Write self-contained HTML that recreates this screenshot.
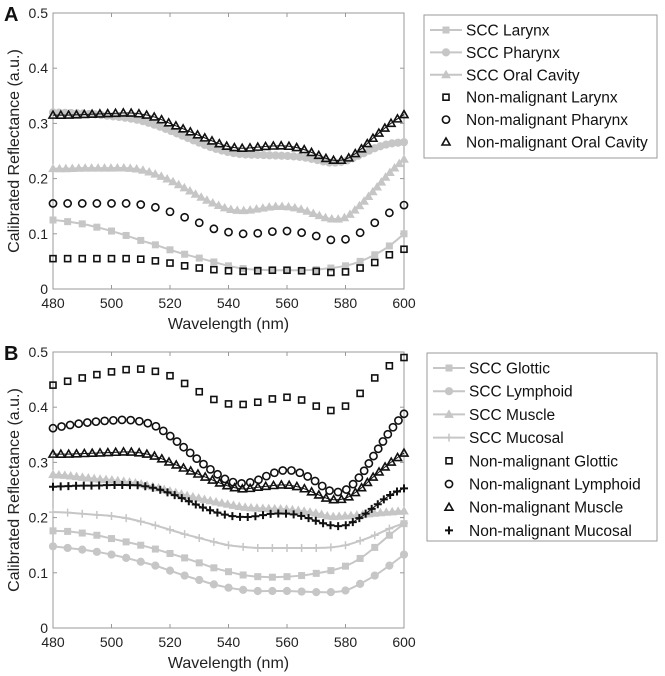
<!DOCTYPE html>
<html><head><meta charset="utf-8"><style>
body{margin:0;background:#fff;}
svg{display:block;font-family:"Liberation Sans",Arial,sans-serif;}
</style></head><body>
<svg id="fig" width="665" height="676" viewBox="0 0 665 676"></svg>
<script>
const wavelengths=[480,485,490,495,500,505,510,515,520,525,530,535,540,545,550,555,560,565,570,575,580,585,590,595,600];
const yTicks=[0,0.1,0.2,0.3,0.4,0.5];
const yTickLabels=["0","0.1","0.2","0.3","0.4","0.5"];
const xTicks=[480,500,520,540,560,580,600];
// Panel A
const aSccLarynx=[.125,.122,.118,.112,.105,.097,.088,.080,.071,.063,.056,.049,.042,.037,.035,.034,.034,.034,.035,.038,.042,.050,.062,.078,.100];
const aSccPharynx=[.320,.319,.318,.316,.313,.310,.305,.297,.287,.276,.265,.255,.248,.244,.243,.242,.241,.239,.234,.229,.232,.243,.255,.263,.266];
const aSccOral=[.218,.218,.219,.219,.219,.219,.216,.208,.197,.183,.168,.155,.145,.142,.145,.149,.149,.144,.135,.127,.130,.152,.180,.210,.235];
const aNmLarynx=[.055,.055,.055,.055,.055,.055,.054,.051,.047,.042,.038,.035,.033,.032,.033,.034,.034,.033,.032,.030,.031,.038,.048,.062,.072];
const aNmPharynx=[.155,.155,.155,.155,.155,.155,.153,.148,.140,.130,.120,.109,.103,.100,.101,.104,.105,.102,.096,.089,.090,.102,.120,.138,.152];
const aNmOral=[.315,.315,.316,.317,.318,.319,.317,.311,.300,.289,.278,.267,.258,.255,.257,.259,.259,.254,.244,.234,.235,.252,.276,.298,.316];
// Panel B
const bSccGlottic=[.176,.175,.172,.168,.162,.156,.150,.143,.135,.127,.118,.109,.102,.096,.093,.092,.093,.095,.099,.104,.112,.126,.146,.168,.189];
const bSccLymphoid=[.148,.145,.142,.138,.133,.127,.120,.113,.104,.095,.087,.079,.073,.069,.067,.067,.067,.066,.065,.065,.068,.080,.095,.113,.133];
const bSccMuscle=[.278,.276,.273,.270,.268,.265,.261,.255,.248,.241,.235,.229,.224,.219,.217,.216,.215,.212,.208,.202,.203,.205,.208,.210,.212];
const bSccMucosal=[.210,.209,.207,.205,.203,.199,.193,.186,.178,.170,.163,.156,.150,.147,.145,.145,.145,.145,.145,.146,.150,.158,.168,.180,.190];
const bNmGlottic=[.440,.447,.453,.459,.464,.468,.469,.465,.457,.443,.428,.414,.406,.405,.409,.415,.418,.413,.402,.394,.402,.425,.453,.475,.490];
const bNmLymphoid=[.362,.367,.371,.374,.376,.377,.374,.366,.348,.326,.303,.283,.267,.262,.268,.280,.286,.280,.265,.248,.250,.275,.315,.355,.388];
const bNmMuscle=[.315,.315,.316,.317,.318,.319,.317,.311,.300,.289,.278,.267,.257,.252,.255,.258,.259,.254,.243,.233,.235,.252,.276,.298,.317];
const bNmMucosal=[.256,.257,.258,.258,.259,.259,.258,.253,.244,.233,.221,.211,.204,.201,.203,.207,.207,.203,.194,.186,.186,.200,.220,.240,.253];

const NS="http://www.w3.org/2000/svg";
const svg=document.getElementById('fig');
function el(tag,attrs,parent){const e=document.createElementNS(NS,tag);for(const k in attrs)e.setAttribute(k,attrs[k]);(parent||svg).appendChild(e);return e;}
const GRAY="#c6c6c6";

function marker(g,type,x,y,color,filled){
  let m;
  if(type==='sq'){m=el('rect',{x:x-3,y:y-3,width:6,height:6},g);}
  else if(type==='ci'){m=el('circle',{cx:x,cy:y,r:3.6},g);}
  else if(type==='tr'){m=el('path',{d:`M${x} ${y-4}L${x+4} ${y+3}L${x-4} ${y+3}Z`},g);}
  else {m=el('path',{d:`M${x-4} ${y}H${x+4}M${x} ${y-4}V${y+4}`},g);}
  if(filled&&type!=='pl'){m.setAttribute('fill',color);m.setAttribute('stroke',color);m.setAttribute('stroke-width','1');}
  else{m.setAttribute('fill','none');m.setAttribute('stroke',color);m.setAttribute('stroke-width',type==='pl'?(filled?'1.5':'2'):'1.6');}
  
  
  return m;
}

function drawPanel(P){
  const L=53,R=404,T=P.top,B=P.top+276;
  const sx=v=>L+(v-480)/120*(R-L);
  const sy=v=>B-v/0.5*(B-T);
  const g=el('g',{});
  
  
  const frame=el('rect',{x:L,y:T,width:R-L,height:B-T,fill:'none',stroke:'#999','stroke-width':1},g);
  
  
  yTicks.forEach((t,i)=>{
    const y=sy(t);
    el('line',{x1:L,x2:L+4,y1:y,y2:y,stroke:'#999'},g);
    el('line',{x1:R,x2:R-4,y1:y,y2:y,stroke:'#999'},g);
    const tx=el('text',{x:L-5,y:y+5,'text-anchor':'end','font-size':14,fill:'#222'},g);
    tx.textContent=yTickLabels[i];
    
    
  });
  xTicks.forEach(t=>{
    const x=sx(t);
    el('line',{x1:x,x2:x,y1:B,y2:B-4,stroke:'#999'},g);
    el('line',{x1:x,x2:x,y1:T,y2:T+4,stroke:'#999'},g);
    const tx=el('text',{x:x,y:B+19,'text-anchor':'middle','font-size':14,fill:'#222'},g);
    tx.textContent=t;
    
    
  });
  const xt=el('text',{x:(L+R)/2,y:B+40,'text-anchor':'middle','font-size':16,fill:'#222'},g);
  xt.textContent='Wavelength (nm)';
  
  
  const yt=el('text',{x:0,y:0,'text-anchor':'middle','font-size':16,fill:'#222',transform:`translate(19,${(T+B)/2}) rotate(-90)`},g);
  yt.textContent='Calibrated Reflectance (a.u.)';
  
  
  const pl=el('text',{x:4,y:T+8,'font-size':20,'font-weight':'bold',fill:'#111'},g);
  pl.textContent=P.label;
  
  

  P.series.forEach(s=>{
    const sg=el('g',{},g);
    
    
    const pts=wavelengths.map((w,i)=>[sx(w),sy(s.data[i])]);
    // smooth path
    let d=`M${pts[0][0]} ${pts[0][1]}`;
    for(let i=0;i<pts.length-1;i++){
      const p0=pts[Math.max(0,i-1)],p1=pts[i],p2=pts[i+1],p3=pts[Math.min(pts.length-1,i+2)];
      d+=`C${p1[0]+(p2[0]-p0[0])/6} ${p1[1]+(p2[1]-p0[1])/6} ${p2[0]-(p3[0]-p1[0])/6} ${p2[1]-(p3[1]-p1[1])/6} ${p2[0]} ${p2[1]}`;
    }
    const path=el('path',{d:d,fill:'none',stroke:s.gray?GRAY:'#111','stroke-width':s.gray?2:1,opacity:s.line?1:0},sg);
    
    
    const color=s.gray?GRAY:'#111';
    if(s.dense){
      const len=path.getTotalLength();
      const n=s.dense;
      for(let k=0;k<=n;k++){const p=path.getPointAtLength(len*k/n);marker(sg,s.m,p.x,p.y,color,s.gray);}
    } else {
      pts.forEach(p=>marker(sg,s.m,p[0],p[1],color,s.gray));
    }
  });

  // legend
  const lg=el('g',{},g);
  
  
  const lb=P.legend;
  el('rect',{x:lb.x,y:lb.y,width:lb.w,height:lb.h,fill:'#fff',stroke:'#999'},lg);
  P.series.slice().sort((a,b)=>a.order-b.order).forEach((s,i)=>{
    const y=lb.y+15+i*lb.dy;
    const e=el('g',{},lg);
    
    
    const color=s.gray?GRAY:'#111';
    if(s.gray) el('line',{x1:lb.x+6,x2:lb.x+38,y1:y,y2:y,stroke:GRAY,'stroke-width':2},e);
    marker(e,s.m,lb.x+22,y,color,s.gray);
    const t=el('text',{x:lb.x+42,y:y+5.5,'font-size':15.5,fill:'#111'},e);
    t.textContent=s.label;
  });
}

drawPanel({name:'panel-a',label:'A',top:13,legend:{x:424,y:15,w:233,h:143,dy:22.4},series:[
  {id:'scc-pharynx',label:'SCC Pharynx',data:aSccPharynx,m:'ci',gray:true,line:true,dense:60,order:1},
  {id:'scc-larynx',label:'SCC Larynx',data:aSccLarynx,m:'sq',gray:true,line:true,order:0},
  {id:'scc-oral-cavity',label:'SCC Oral Cavity',data:aSccOral,m:'tr',gray:true,line:true,dense:60,order:2},
  {id:'nm-larynx',label:'Non-malignant Larynx',data:aNmLarynx,m:'sq',order:3},
  {id:'nm-pharynx',label:'Non-malignant Pharynx',data:aNmPharynx,m:'ci',order:4},
  {id:'nm-oral-cavity',label:'Non-malignant Oral Cavity',data:aNmOral,m:'tr',line:true,dense:48,order:5}
]});
drawPanel({name:'panel-b',label:'B',top:352,legend:{x:427,y:353,w:230,h:188,dy:23.2},series:[
  {id:'scc-glottic',label:'SCC Glottic',data:bSccGlottic,m:'sq',gray:true,line:true,order:0},
  {id:'scc-lymphoid',label:'SCC Lymphoid',data:bSccLymphoid,m:'ci',gray:true,line:true,order:1},
  {id:'scc-muscle',label:'SCC Muscle',data:bSccMuscle,m:'tr',gray:true,line:true,dense:60,order:2},
  {id:'scc-mucosal',label:'SCC Mucosal',data:bSccMucosal,m:'pl',gray:true,line:true,order:3},
  {id:'nm-glottic',label:'Non-malignant Glottic',data:bNmGlottic,m:'sq',order:4},
  {id:'nm-lymphoid',label:'Non-malignant Lymphoid',data:bNmLymphoid,m:'ci',dense:48,order:5},
  {id:'nm-muscle',label:'Non-malignant Muscle',data:bNmMuscle,m:'tr',line:true,dense:48,order:6},
  {id:'nm-mucosal',label:'Non-malignant Mucosal',data:bNmMucosal,m:'pl',line:true,dense:48,order:7}
]});
</script>
</body></html>
